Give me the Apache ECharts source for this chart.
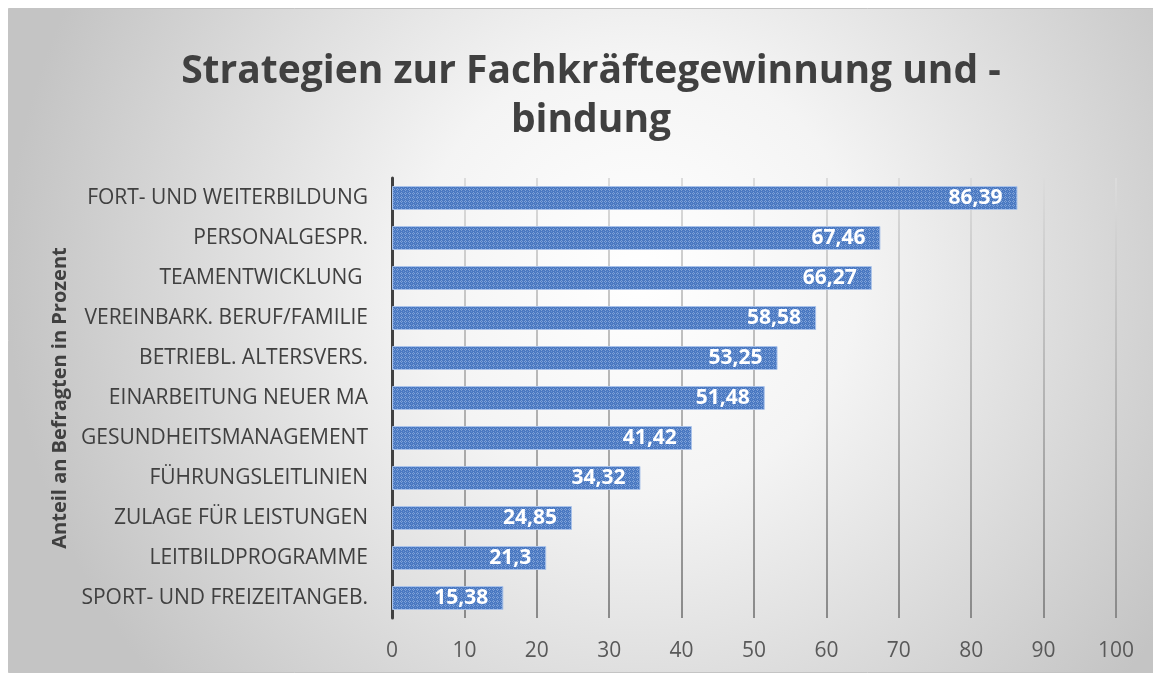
<!DOCTYPE html>
<html>
<head>
<meta charset="utf-8">
<script src="https://cdn.jsdelivr.net/npm/echarts@6/dist/echarts.min.js"></script>
<style>
  html, body { margin: 0; padding: 0; background: #ffffff; }
  #chart { width: 1153px; height: 675px; }
</style>
</head>
<body>
<div id="chart"></div>
<script>
// Kategorien von unten nach oben (Kategorieachse läuft bei ECharts von unten)
const categories = [
  "SPORT- UND FREIZEITANGEB.",
  "LEITBILDPROGRAMME",
  "ZULAGE FÜR LEISTUNGEN",
  "FÜHRUNGSLEITLINIEN",
  "GESUNDHEITSMANAGEMENT",
  "EINARBEITUNG NEUER MA",
  "BETRIEBL. ALTERSVERS.",
  "VEREINBARK. BERUF/FAMILIE",
  "TEAMENTWICKLUNG ",
  "PERSONALGESPR.",
  "FORT- UND WEITERBILDUNG"
];
const values = [15.38, 21.3, 24.85, 34.32, 41.42, 51.48, 53.25, 58.58, 66.27, 67.46, 86.39];
const xTicks = [0, 10, 20, 30, 40, 50, 60, 70, 80, 90, 100];

const titleText = "Strategien zur Fachkräftegewinnung und -\nbindung";
const yAxisTitle = "Anteil an Befragten in Prozent";

// kleines Punktmuster für die Balken
const makePattern = () => {
  const c = document.createElement("canvas");
  c.width = 4;
  c.height = 4;
  const ctx = c.getContext("2d");
  ctx.fillStyle = "#4a78c1";
  ctx.fillRect(0, 0, 4, 4);
  ctx.fillStyle = "#7fa2d8";
  ctx.fillRect(1, 0, 1, 1);
  ctx.fillRect(0, 1, 1, 1);
  ctx.fillRect(2, 1, 1, 1);
  ctx.fillRect(1, 2, 1, 1);
  ctx.fillStyle = "#6690cf";
  ctx.fillRect(3, 3, 1, 1);
  return c;
};

const chart = echarts.init(document.getElementById("chart"));
chart.setOption({
  animation: false,
  graphic: [
    {
      type: "rect",
      z: -10,
      silent: true,
      shape: { x: 8.5, y: 8.5, width: 1145, height: 664 },
      style: {
        stroke: "#c4c4c4",
        lineWidth: 1,
        fill: {
          type: "radial",
          x: 0.55,
          y: 0.4,
          r: 0.95,
          colorStops: [
            { offset: 0, color: "#ffffff" },
            { offset: 0.35, color: "#f4f4f4" },
            { offset: 1, color: "#c4c4c4" }
          ]
        }
      }
    }
  ],
  title: {
    text: titleText,
    left: 586,
    textAlign: "center",
    top: 42,
    textStyle: {
      fontFamily: "Open Sans",
      fontWeight: "bold",
      fontSize: 39,
      color: "#404040",
      lineHeight: 49
    }
  },
  grid: {
    left: 392,
    right: 37,
    top: 178,
    bottom: 57
  },
  xAxis: {
    type: "value",
    min: 0,
    max: 100,
    interval: 10,
    axisLine: { show: false },
    axisTick: { show: false },
    axisLabel: {
      color: "#595959",
      fontFamily: "Open Sans",
      fontSize: 21,
      margin: 23,
      formatter: (v) => (xTicks.includes(v) ? String(v) : "")
    },
    splitLine: {
      show: true,
      lineStyle: {
        width: 2,
        color: {
          type: "linear",
          x: 0, y: 178, x2: 0, y2: 618,
          global: true,
          colorStops: [
            { offset: 0, color: "#dcdcdc" },
            { offset: 1, color: "#8a8a8a" }
          ]
        }
      }
    }
  },
  yAxis: {
    type: "category",
    data: categories,
    name: yAxisTitle,
    nameLocation: "middle",
    nameGap: 320,
    nameTextStyle: {
      fontFamily: "Open Sans",
      fontWeight: "bold",
      fontSize: 20,
      color: "#404040"
    },
    axisTick: { show: false },
    axisLine: {
      show: true,
      lineStyle: { color: "#404040", width: 3 }
    },
    axisLabel: {
      color: "#404040",
      fontFamily: "Open Sans",
      fontSize: 21,
      margin: 24
    }
  },
  series: [
    {
      type: "bar",
      data: values,
      barWidth: "60%",
      itemStyle: {
        color: { image: makePattern(), repeat: "repeat" },
        borderColor: "#a9c2ea",
        borderWidth: 1
      },
      label: {
        show: true,
        position: "insideRight",
        distance: 15,
        color: "#ffffff",
        fontFamily: "Open Sans",
        fontWeight: "bold",
        fontSize: 21,
        formatter: (p) => String(p.value).replace(".", ",")
      }
    }
  ]
});
</script>
</body>
</html>
